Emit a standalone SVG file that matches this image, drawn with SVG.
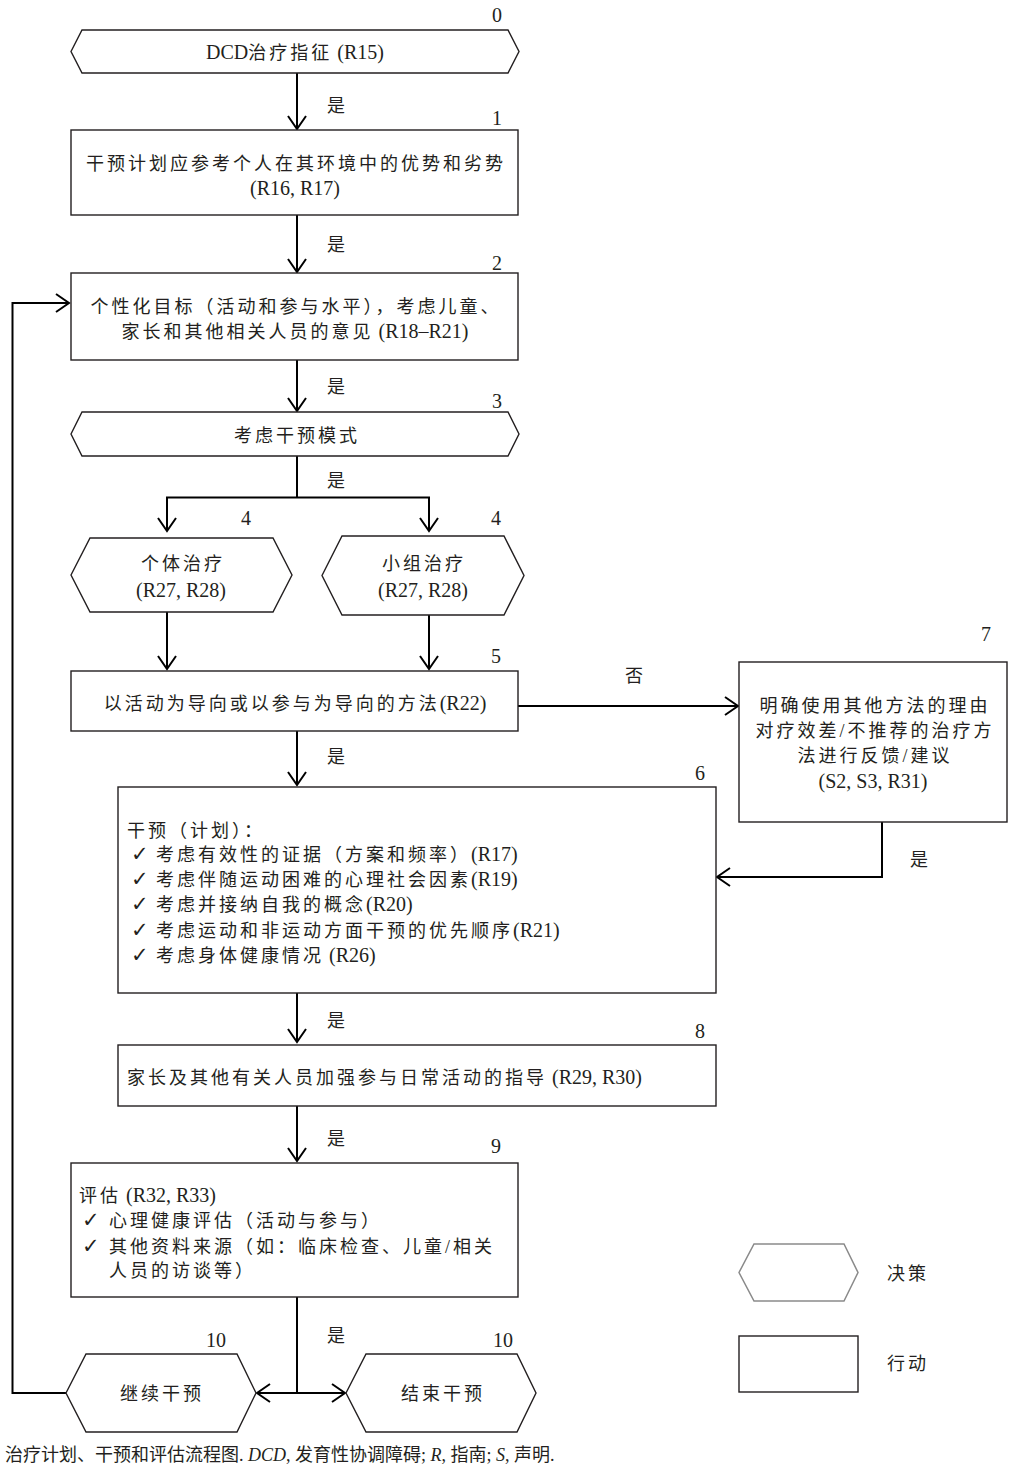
<svg xmlns="http://www.w3.org/2000/svg" width="1015" height="1468" viewBox="0 0 1015 1468">
<style>
.t{font-family:"Liberation Serif","Noto Sans CJK SC",serif;font-size:20px;fill:#231f20}
.c{font-family:"Liberation Serif","Noto Sans CJK SC",serif;font-size:18px;letter-spacing:3px}
.m{text-anchor:middle}
.ck{font-family:"DejaVu Sans",sans-serif;font-size:21px;font-weight:bold}
.box{fill:#fff;stroke:#231f20;stroke-width:1.4}
.lg{fill:#fff;stroke:#8a8a8a;stroke-width:1.5}
.ln{fill:none;stroke:#000;stroke-width:2}
.cap{font-family:"Liberation Serif","Noto Sans CJK SC",serif;font-size:18px;fill:#231f20}
</style>
<defs>
<marker id="a" viewBox="-16 -11 18 22" refX="0" refY="0" markerWidth="18" markerHeight="22" markerUnits="userSpaceOnUse" orient="auto">
<path d="M-13,-9 L0,0 L-13,9" fill="none" stroke="#000" stroke-width="2"/>
</marker>
</defs>
<rect width="1015" height="1468" fill="#fff"/>

<g id="connectors">
<path class="ln" d="M297,73 V129" marker-end="url(#a)"/>
<path class="ln" d="M297,215 V272" marker-end="url(#a)"/>
<path class="ln" d="M297,360 V411" marker-end="url(#a)"/>
<path class="ln" d="M297,456 V497.5"/>
<path class="ln" d="M166,497.5 H430"/>
<path class="ln" d="M167,497.5 V531" marker-end="url(#a)"/>
<path class="ln" d="M429,497.5 V531" marker-end="url(#a)"/>
<path class="ln" d="M167,612 V669" marker-end="url(#a)"/>
<path class="ln" d="M429,615 V669" marker-end="url(#a)"/>
<path class="ln" d="M518,706 H738" marker-end="url(#a)"/>
<path class="ln" d="M297,731 V785" marker-end="url(#a)"/>
<path class="ln" d="M882,822 V877 H717" marker-end="url(#a)"/>
<path class="ln" d="M297,993 V1042" marker-end="url(#a)"/>
<path class="ln" d="M297,1106 V1161" marker-end="url(#a)"/>
<path class="ln" d="M297,1297 V1393"/>
<path class="ln" d="M297,1393 H257" marker-end="url(#a)"/>
<path class="ln" d="M297,1393 H345" marker-end="url(#a)"/>
<path class="ln" d="M66,1393 H12.5 V303 H69" marker-end="url(#a)"/>
<text class="t" x="327" y="112"><tspan class="c">是</tspan></text>
<text class="t" x="327" y="251"><tspan class="c">是</tspan></text>
<text class="t" x="327" y="393"><tspan class="c">是</tspan></text>
<text class="t" x="327" y="487"><tspan class="c">是</tspan></text>
<text class="t" x="625" y="682"><tspan class="c">否</tspan></text>
<text class="t" x="327" y="763"><tspan class="c">是</tspan></text>
<text class="t" x="910" y="866"><tspan class="c">是</tspan></text>
<text class="t" x="327" y="1027"><tspan class="c">是</tspan></text>
<text class="t" x="327" y="1145"><tspan class="c">是</tspan></text>
<text class="t" x="327" y="1342"><tspan class="c">是</tspan></text>
</g>

<g id="n0">
<polygon class="box" points="71,51.5 82,30 508,30 519,51.5 508,73 82,73"/>
<text class="t m" x="295" y="59">DCD<tspan class="c">治疗指征</tspan> (R15)</text>
<text class="t m" x="497" y="22">0</text>
</g>

<g id="n1">
<rect class="box" x="71" y="130" width="447" height="85"/>
<text class="t m" x="296" y="170"><tspan class="c">干预计划应参考个人在其环境中的优势和劣势</tspan></text>
<text class="t m" x="295" y="195">(R16, R17)</text>
<text class="t m" x="497" y="125">1</text>
</g>

<g id="n2">
<rect class="box" x="71" y="273" width="447" height="87"/>
<text class="t m" x="296" y="313"><tspan class="c">个性化目标（活动和参与水平），考虑儿童、</tspan></text>
<text class="t m" x="295" y="338"><tspan class="c">家长和其他相关人员的意见</tspan> (R18–R21)</text>
<text class="t m" x="497" y="270">2</text>
</g>

<g id="n3">
<polygon class="box" points="71,434 82,412 508,412 519,434 508,456 82,456"/>
<text class="t m" x="297" y="442"><tspan class="c">考虑干预模式</tspan></text>
<text class="t m" x="497" y="408">3</text>
</g>

<g id="n4a">
<polygon class="box" points="71,575 90,538 273,538 292,575 273,612 90,612"/>
<text class="t m" x="183" y="570"><tspan class="c">个体治疗</tspan></text>
<text class="t m" x="181" y="597">(R27, R28)</text>
<text class="t m" x="246" y="525">4</text>
</g>

<g id="n4b">
<polygon class="box" points="322,575.5 342,536 504,536 524,575.5 504,615 342,615"/>
<text class="t m" x="424" y="570"><tspan class="c">小组治疗</tspan></text>
<text class="t m" x="423" y="597">(R27, R28)</text>
<text class="t m" x="496" y="525">4</text>
</g>

<g id="n5">
<rect class="box" x="71" y="671" width="447" height="60"/>
<text class="t m" x="295" y="710"><tspan class="c">以活动为导向或以参与为导向的方法</tspan>(R22)</text>
<text class="t m" x="496" y="663">5</text>
</g>

<g id="n7">
<rect class="box" x="739" y="662" width="268" height="160"/>
<text class="t m" x="875" y="712"><tspan class="c">明确使用其他方法的理由</tspan></text>
<text class="t m" x="875" y="737"><tspan class="c">对疗效差/不推荐的治疗方</tspan></text>
<text class="t m" x="875" y="762"><tspan class="c">法进行反馈/建议</tspan></text>
<text class="t m" x="873" y="788">(S2, S3, R31)</text>
<text class="t m" x="986" y="641">7</text>
</g>

<g id="n6">
<rect class="box" x="118" y="787" width="598" height="206"/>
<text class="t" x="127" y="837"><tspan class="c">干预（计划）：</tspan></text>
<text class="t" x="131" y="861"><tspan class="ck">✓</tspan></text>
<text class="t" x="156" y="861"><tspan class="c">考虑有效性的证据（方案和频率）</tspan>(R17)</text>
<text class="t" x="131" y="886"><tspan class="ck">✓</tspan></text>
<text class="t" x="156" y="886"><tspan class="c">考虑伴随运动困难的心理社会因素</tspan>(R19)</text>
<text class="t" x="131" y="911"><tspan class="ck">✓</tspan></text>
<text class="t" x="156" y="911"><tspan class="c">考虑并接纳自我的概念</tspan>(R20)</text>
<text class="t" x="131" y="937"><tspan class="ck">✓</tspan></text>
<text class="t" x="156" y="937"><tspan class="c">考虑运动和非运动方面干预的优先顺序</tspan>(R21)</text>
<text class="t" x="131" y="962"><tspan class="ck">✓</tspan></text>
<text class="t" x="156" y="962"><tspan class="c">考虑身体健康情况</tspan> (R26)</text>
<text class="t m" x="700" y="780">6</text>
</g>

<g id="n8">
<rect class="box" x="118" y="1045" width="598" height="61"/>
<text class="t" x="127" y="1084"><tspan class="c">家长及其他有关人员加强参与日常活动的指导</tspan> (R29, R30)</text>
<text class="t m" x="700" y="1038">8</text>
</g>

<g id="n9">
<rect class="box" x="71" y="1163" width="447" height="134"/>
<text class="t" x="79" y="1202"><tspan class="c">评估</tspan> (R32, R33)</text>
<text class="t" x="82" y="1227"><tspan class="ck">✓</tspan></text>
<text class="t" x="109" y="1227"><tspan class="c">心理健康评估（活动与参与）</tspan></text>
<text class="t" x="82" y="1253"><tspan class="ck">✓</tspan></text>
<text class="t" x="109" y="1253"><tspan class="c">其他资料来源（如：临床检查、儿童/相关</tspan></text>
<text class="t" x="109" y="1277"><tspan class="c">人员的访谈等）</tspan></text>
<text class="t m" x="496" y="1153">9</text>
</g>

<g id="n10a">
<polygon class="box" points="66,1393 86,1354 237,1354 256,1393 237,1432 86,1432"/>
<text class="t m" x="162" y="1400"><tspan class="c">继续干预</tspan></text>
<text class="t m" x="216" y="1347">10</text>
</g>

<g id="n10b">
<polygon class="box" points="346,1393 366,1354 517,1354 536,1393 517,1432 366,1432"/>
<text class="t m" x="443" y="1400"><tspan class="c">结束干预</tspan></text>
<text class="t m" x="503" y="1347">10</text>
</g>

<g id="legend">
<polygon class="lg" points="739,1272.5 754,1244 844,1244 858,1272.5 844,1301 754,1301"/>
<text class="t" x="887" y="1280"><tspan class="c">决策</tspan></text>
<rect class="box" x="739" y="1336" width="119" height="56"/>
<text class="t" x="887" y="1370"><tspan class="c">行动</tspan></text>
</g>

<text class="cap" x="5" y="1461">治疗计划、干预和评估流程图. <tspan font-style="italic">DCD</tspan>, 发育性协调障碍; <tspan font-style="italic">R</tspan>, 指南; <tspan font-style="italic">S</tspan>, 声明.</text>
</svg>
